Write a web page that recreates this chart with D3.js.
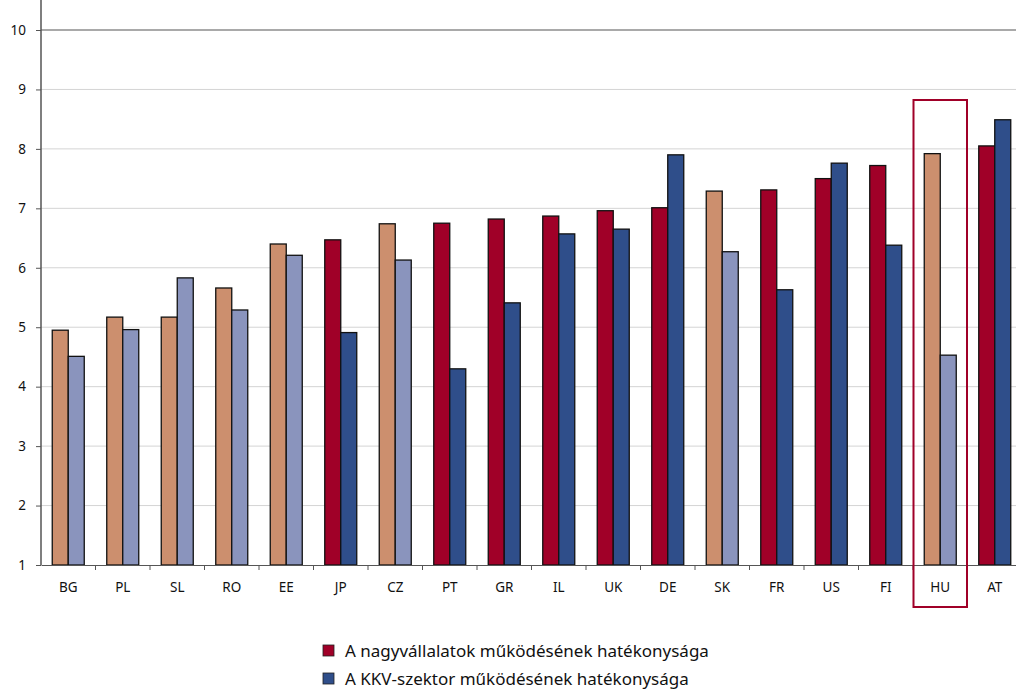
<!DOCTYPE html>
<html><head><meta charset="utf-8">
<script src="https://cdn.jsdelivr.net/npm/d3@7"></script>
<style>body{margin:0;background:#fff}svg{display:block}text{font-family:"Noto Sans",sans-serif;fill:#111}</style>
</head><body>
<svg id="c" width="1016" height="690"></svg>
<script>
const categories = ["BG","PL","SL","RO","EE","JP","CZ","PT","GR","IL","UK","DE","SK","FR","US","FI","HU","AT"];
const largeValues = [4.95,5.17,5.17,5.66,6.40,6.47,6.74,6.75,6.82,6.87,6.96,7.01,7.29,7.31,7.50,7.72,7.92,8.05];
const smeValues   = [4.51,4.96,5.83,5.29,6.21,4.91,6.13,4.30,5.41,6.57,6.65,7.90,6.27,5.63,7.76,6.38,4.53,8.49];
const lightCountries = ["BG","PL","SL","RO","EE","CZ","SK","HU"];
const highlighted = ["HU"];
const seriesNames = ["A nagyvállalatok működésének hatékonysága","A KKV-szektor működésének hatékonysága"];
const yTicks = [1,2,3,4,5,6,7,8,9,10];

(function(){
const dark = ["#A00028","#2F4E8A"];
const light = ["#CC8F6E","#8A94BD"];

const svg = d3.select("#c");
const mLeft = 41, mRight = 1022, mTop = 30, mBottom = 565;
const x = d3.scaleBand().domain(categories).range([mLeft, mRight]).paddingInner(0).paddingOuter(0);
const y = d3.scaleLinear().domain([1,10]).range([mBottom, mTop]);
const sub = d3.scaleBand().domain([0,1]).range([0, 32]);
const offset = (x.bandwidth()-32)/2;

// gridlines
svg.append("g").selectAll("line").data(yTicks.filter(d=>d>1)).join("line")
  .attr("x1", mLeft).attr("x2", 1016).attr("y1", d=>y(d)).attr("y2", d=>y(d))
  .attr("stroke", d=> d===10 ? "#8c8c8c" : "#d4d4d4").attr("stroke-width", d=>d===10?1.5:1);

// y axis
const ya = svg.append("g").attr("transform", `translate(${mLeft},0)`)
  .call(d3.axisLeft(y).tickValues(yTicks).tickSize(5).tickPadding(10).tickFormat(d3.format("d")));
ya.select(".domain").remove();
ya.selectAll(".tick line").attr("stroke","#555");
ya.selectAll(".tick text").style("font-size","13.5px");
svg.append("line").attr("x1",mLeft).attr("x2",mLeft).attr("y1",0).attr("y2",mBottom).attr("stroke","#555").attr("stroke-width",1.5);

// bars
const groups = svg.append("g").selectAll("g").data(categories).join("g")
  .attr("transform", d=>`translate(${x(d)+offset},0)`);
[largeValues, smeValues].forEach((vals, s)=>{
  groups.append("rect")
    .attr("x", sub(s)).attr("width", sub.bandwidth())
    .attr("y", (d,i)=>y(vals[i])).attr("height", (d,i)=>mBottom - y(vals[i]))
    .attr("fill", d=> lightCountries.includes(d) ? light[s] : dark[s])
    .attr("stroke","#111").attr("stroke-width",1.3);
});

// x axis
const xa = svg.append("g").attr("transform", `translate(0,${mBottom})`)
  .call(d3.axisBottom(x).tickSize(0).tickPadding(17));
xa.select(".domain").attr("stroke","#555").attr("stroke-width",1.2);
xa.selectAll(".tick text").style("font-size","13.5px");
svg.append("g").selectAll("line").data(categories.slice(1)).join("line")
  .attr("x1", d=>x(d)).attr("x2", d=>x(d)).attr("y1", mBottom).attr("y2", mBottom+5)
  .attr("stroke","#555");

// highlight box
highlighted.forEach(c=>{
  svg.append("rect").attr("x", x(c)+0.5).attr("width", x.bandwidth()-1)
    .attr("y", 100).attr("height", 507)
    .attr("fill","none").attr("stroke","#A00028").attr("stroke-width",2);
});

// legend
const lg = svg.append("g").attr("transform","translate(323,645)");
seriesNames.forEach((n,i)=>{
  const g = lg.append("g").attr("transform",`translate(0,${i*28})`);
  g.append("rect").attr("width",11).attr("height",11).attr("fill",dark[i]).attr("stroke","#222").attr("stroke-width",0.8);
  g.append("text").attr("x",22).attr("y",11.5).style("font-size","17px").text(n);
});
})();
</script>
</body></html>
